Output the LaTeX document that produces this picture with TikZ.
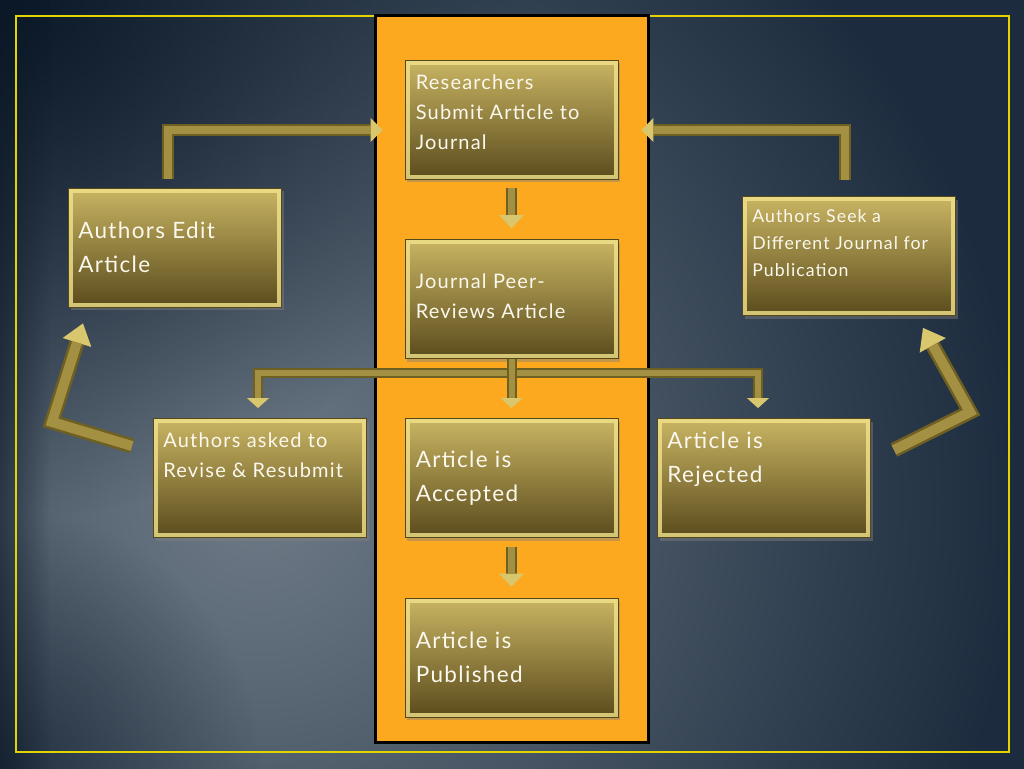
\documentclass[tikz,border=0pt]{standalone}
\usepackage{fontspec}
\setmainfont{Lato}[LetterSpace=6]
\usetikzlibrary{arrows.meta,shadows,fadings}
\definecolor{bgdark}{HTML}{1C2C3E}
\definecolor{bglight}{HTML}{6E7A86}
\definecolor{bgcorner}{HTML}{0A1828}
\definecolor{frameY}{HTML}{E2D400}
\definecolor{colOrange}{HTML}{FCA91F}
\definecolor{boxTop}{HTML}{C9B563}
\definecolor{boxBot}{HTML}{5A4B1C}
\definecolor{boxLight}{HTML}{F3E38C}
\definecolor{boxEdge}{HTML}{55481A}
\definecolor{barMain}{HTML}{6E5F22}
\definecolor{barHi}{HTML}{A39042}
\definecolor{tipCol}{HTML}{D9C76D}
\definecolor{txtCol}{HTML}{FBF8EE}
\pgfdeclareradialshading{bgrad}{\pgfpointorigin}{color(0bp)=(bglight); color(12.5bp)=(bgdark); color(50bp)=(bgdark)}
\tikzfading[name=cornerfade, inner color=transparent!0, outer color=transparent!100]
\tikzfading[name=fadeR, left color=transparent!0, right color=transparent!100]
\begin{document}
\begin{tikzpicture}[x=1pt,y=-1pt,
  gbox/.style={minimum width=213pt, minimum height=119pt, inner sep=0pt,
    top color=boxTop, bottom color=boxBot, draw=boxEdge, line width=0.8pt,
    drop shadow={opacity=0.45,shadow xshift=2pt,shadow yshift=-3pt},
    path picture={\draw[boxLight, opacity=0.8, line width=9pt]
      (path picture bounding box.south west) rectangle (path picture bounding box.north east);}},
  txt/.style={text=txtCol, align=left, anchor=west, inner sep=0pt},
  fA/.style={font=\fontsize{20}{30}\selectfont},
  fB/.style={font=\fontsize{22.5}{34}\selectfont},
  fC/.style={font=\fontsize{17.7}{27}\selectfont},
  bigbar/.style={line width=12pt, draw=barMain, line join=miter,
    -{Triangle[length=12pt,width=24pt,line width=0pt,fill=tipCol,color=tipCol]},
    postaction={draw=barHi, line width=8pt, arrows=-, shorten >=12pt}},
  midbar/.style={line width=10pt, draw=barMain, line join=miter,
    -{Triangle[length=10pt,width=22pt,line width=0pt,fill=tipCol,color=tipCol]},
    postaction={draw=barHi, line width=6pt, arrows=-, shorten >=10pt}},
  smallarrow/.style={line width=11pt, draw=barMain, line join=miter,
    -{Triangle[length=13pt,width=25pt,line width=0pt,fill=tipCol,color=tipCol]},
    postaction={draw=barHi, line width=7pt, arrows=-, shorten >=13pt}},
  bentarrow/.style={line width=15pt, draw=barMain, line join=miter,
    -{Triangle[length=20pt,width=30pt,line width=0pt,fill=tipCol,color=tipCol]},
    postaction={draw=barHi, line width=10pt, arrows=-, shorten >=20pt}}
]
\useasboundingbox (0,0) rectangle (1024,768);
\begin{scope}
  \clip (0,0) rectangle (1024,768);
  \fill[bgdark] (0,0) rectangle (1024,768);
  \shade[shading=bgrad] (260,500) circle (1520);
  \fill[bgcorner, path fading=cornerfade] (0,0) circle (520);
  \fill[bgcorner, path fading=cornerfade, opacity=0.6] (0,768) circle (260);
  \fill[bgcorner, path fading=fadeR, opacity=0.55] (0,0) rectangle (50,768);
\end{scope}
\draw[frameY, line width=2pt] (16,16) rectangle (1009,752);
\draw[black, line width=3pt, fill=colOrange] (375,16) rectangle (648,742);

\node[gbox] (res)  at (511.5,119.5) {};
\node[gbox] (peer) at (511.5,299) {};
\node[gbox] (edit) at (175,247.5) {};
\node[gbox] (seek) at (849,256) {};
\node[gbox] (rev)  at (260,478) {};
\node[gbox] (acc)  at (511.5,478) {};
\node[gbox] (rej)  at (764,478) {};
\node[gbox] (pub)  at (511.5,657.5) {};

\node[txt,fA] (tres)  at ([xshift=11pt,yshift=7pt]res.west) {Researchers\\Submit Article to\\Journal};
\node[txt,fA] (tpeer) at ([xshift=11pt,yshift=2.5pt]peer.west) {Journal Peer-\\Reviews Article};
\node[txt,fB] (tedit) at ([xshift=10pt]edit.west) {Authors Edit\\Article};
\node[txt,fC] (tseek) at ([xshift=10pt,yshift=13pt]seek.west) {Authors Seek a\\Different Journal for\\Publication};
\node[txt,fA] (trev)  at ([xshift=10pt,yshift=22.5pt]rev.west) {Authors asked to\\Revise \& Resubmit};
\node[txt,fB] (tacc)  at ([xshift=11pt]acc.west) {Article is\\Accepted};
\node[txt,fB] (trej)  at ([xshift=10pt,yshift=19pt]rej.west) {Article is\\Rejected};
\node[txt,fB] (tpub)  at ([xshift=11pt]pub.west) {Article is\\Published};

\draw[bigbar] ([xshift=-7pt,yshift=9pt]edit.north) |- ([xshift=-22pt,yshift=-10.5pt]res.west);
\draw[bigbar] ([xshift=-4pt,yshift=16pt]seek.north) |- ([xshift=23pt,yshift=-10.5pt]res.east);
\draw[smallarrow] ([yshift=-9pt]res.south) -- ([yshift=11pt]peer.north);
\draw[smallarrow] ([yshift=-9pt]acc.south) -- ([yshift=11pt]pub.north);
\draw[midbar] (peer.south) ++(0,14) -| ([xshift=-2pt,yshift=10pt]rev.north);
\draw[midbar] (peer.south) ++(0,14) -| ([xshift=-6pt,yshift=10pt]rej.north);
\draw[midbar] (peer.south) -- ([yshift=10pt]acc.north);
\coordinate (cL) at (52,422);
\coordinate (cR) at (970,412);
\draw[bentarrow] ([xshift=-21pt,yshift=32pt]rev.west) -- (cL) -- ([xshift=-92pt,yshift=-16pt]edit.south);
\draw[bentarrow] ([xshift=23pt,yshift=28pt]rej.east) -- (cR) -- ([xshift=74pt,yshift=-12pt]seek.south);
\end{tikzpicture}
\end{document}
